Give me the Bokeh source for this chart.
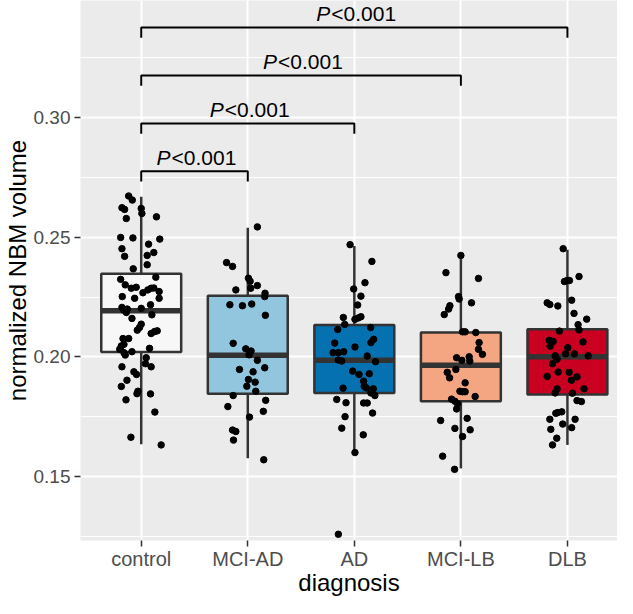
from bokeh.plotting import figure
from bokeh.models import FixedTicker, ColumnDataSource, Range1d
from bokeh.core.properties import value
from bokeh.embed import file_html
from bokeh.resources import INLINE

# ---------------- data ----------------
groups = ["control", "MCI-AD", "AD", "MCI-LB", "DLB"]
fill_colors = ["#F7F7F7", "#92C5DE", "#0571B0", "#F4A582", "#CA0020"]

q1 = [0.2021, 0.1847, 0.1850, 0.1815, 0.1843]
median = [0.2193, 0.2007, 0.1986, 0.1965, 0.2001]
q3 = [0.2347, 0.2256, 0.2133, 0.2102, 0.2116]
whisker_lo = [0.1636, 0.1577, 0.1602, 0.1535, 0.1633]
whisker_hi = [0.2669, 0.2539, 0.2463, 0.2424, 0.2448]

control_vals = [0.2672, 0.2655, 0.2623, 0.2616, 0.2620, 0.2599, 0.2578, 0.2585, 0.2499, 0.2497,
                0.2492, 0.2471, 0.2452, 0.2436, 0.2424, 0.2420, 0.2385, 0.2368, 0.2333, 0.2324,
                0.2301, 0.2287, 0.2291, 0.2273, 0.2268, 0.2280, 0.2287, 0.2288, 0.2252, 0.2245,
                0.2245, 0.2218, 0.2207, 0.2200, 0.2196, 0.2186, 0.2203, 0.2176, 0.2161, 0.2137,
                0.2123, 0.2112, 0.2098, 0.2106, 0.2109, 0.2077, 0.2077, 0.2053, 0.2046, 0.2032,
                0.2036, 0.2018, 0.2008, 0.2022, 0.1997, 0.1972, 0.1959, 0.1959, 0.1938, 0.1927,
                0.1903, 0.1877, 0.1857, 0.1847, 0.1846, 0.1821, 0.1770, 0.1665, 0.1633]
control_jit = [-0.118, -0.084, -0.181, -0.156, 0.0, 0.006, -0.140, 0.143, -0.193, -0.078,
               0.174, 0.069, -0.181, 0.118, 0.056, -0.156, 0.056, -0.075, 0.137, -0.193,
               -0.150, -0.093, -0.047, 0.168, 0.016, 0.062, 0.093, 0.118, -0.178, -0.062,
               0.168, 0.087, -0.181, -0.131, -0.165, -0.140, 0.0, 0.100, -0.087, 0.0,
               -0.016, -0.037, 0.093, 0.125, 0.150, -0.171, -0.118, -0.162, -0.187, -0.202,
               0.078, -0.162, -0.150, -0.087, 0.047, 0.040, 0.093, -0.181, -0.069, -0.044,
               -0.134, -0.187, -0.031, -0.040, 0.087, -0.143, 0.128, -0.097, 0.187]

mciad_vals = [0.2543, 0.2394, 0.2378, 0.2329, 0.2316, 0.2298, 0.2280, 0.2287, 0.2266, 0.2252,
              0.2218, 0.2214, 0.2221, 0.2174, 0.2057, 0.2034, 0.2025, 0.2009, 0.1986, 0.1948,
              0.1955, 0.1938, 0.1906, 0.1895, 0.1878, 0.1857, 0.1839, 0.1819, 0.1793, 0.1773,
              0.1749, 0.1695, 0.1689, 0.1653, 0.1571]
mciad_jit = [0.090, -0.199, -0.143, 0.006, 0.022, 0.090, -0.112, 0.028, 0.162, 0.159,
             -0.168, -0.050, 0.037, 0.165, -0.137, -0.019, 0.031, 0.012, 0.090, -0.078,
             0.159, 0.050, 0.006, 0.069, -0.009, 0.075, -0.137, 0.168, -0.187, 0.146,
             0.016, -0.143, -0.112, -0.134, 0.150]

ad_vals = [0.2469, 0.2399, 0.2310, 0.2284, 0.2254, 0.2217, 0.2165, 0.2157, 0.2163, 0.2168,
           0.2136, 0.2115, 0.2123, 0.2074, 0.2060, 0.2058, 0.2042, 0.2018, 0.2018, 0.2022,
           0.2004, 0.1987, 0.1983, 0.1980, 0.1941, 0.1927, 0.1930, 0.1899, 0.1878, 0.1871,
           0.1870, 0.1867, 0.1850, 0.1839, 0.1823, 0.1809, 0.1808, 0.1808, 0.1766, 0.1751,
           0.1703, 0.1675, 0.1601, 0.1260]
ad_jit = [-0.040, 0.165, 0.100, -0.006, 0.062, 0.031, -0.103, 0.006, 0.037, 0.062,
          -0.090, -0.156, 0.153, 0.181, 0.156, -0.184, 0.006, -0.199, -0.150, -0.100,
          0.121, -0.150, -0.118, 0.199, -0.016, 0.044, 0.140, 0.087, 0.093, 0.112,
          -0.106, 0.178, 0.156, 0.193, -0.165, -0.078, 0.087, 0.121, 0.171, -0.087,
          -0.118, 0.084, 0.006, -0.150]

mcilb_vals = [0.2424, 0.2352, 0.2328, 0.2252, 0.2242, 0.2226, 0.2214, 0.2200, 0.2177, 0.2105,
              0.2105, 0.2102, 0.2060, 0.2032, 0.2011, 0.1997, 0.1986, 0.2001, 0.1983, 0.1948,
              0.1936, 0.1913, 0.1892, 0.1857, 0.1855, 0.1855, 0.1835, 0.1824, 0.1815, 0.1805,
              0.1783, 0.1735, 0.1744, 0.1702, 0.1696, 0.1668, 0.1586, 0.1531]
mcilb_jit = [0.0, -0.140, 0.165, -0.022, -0.016, 0.100, -0.103, -0.115, -0.156, 0.016,
             0.040, 0.140, 0.171, 0.165, 0.202, -0.040, 0.009, 0.078, 0.084, -0.047,
             -0.128, -0.106, 0.040, -0.009, 0.016, 0.040, 0.134, -0.087, -0.056, -0.031,
             -0.040, -0.190, 0.059, -0.056, 0.087, 0.016, -0.171, -0.059]

dlb_vals = [0.2452, 0.2336, 0.2315, 0.2319, 0.2319, 0.2237, 0.2226, 0.2219, 0.2213, 0.2182,
            0.2158, 0.2135, 0.2113, 0.2108, 0.2070, 0.2065, 0.2063, 0.2045, 0.2039, 0.2014,
            0.2013, 0.2005, 0.1991, 0.2005, 0.1972, 0.1919, 0.1937, 0.1936, 0.1917, 0.1903,
            0.1867, 0.1867, 0.1850, 0.1849, 0.1818, 0.1814, 0.1765, 0.1768, 0.1771, 0.1740,
            0.1740, 0.1720, 0.1698, 0.1705, 0.1661, 0.1633]
dlb_jit = [-0.040, 0.109, -0.028, -0.003, 0.019, 0.040, -0.190, -0.165, -0.090, 0.062,
           0.181, 0.100, 0.109, -0.075, -0.171, -0.134, 0.146, -0.162, 0.003, -0.016,
           0.065, -0.115, -0.097, 0.196, -0.140, -0.190, -0.087, 0.016, 0.090, 0.037,
           -0.097, 0.156, -0.115, 0.047, 0.090, 0.131, -0.109, -0.090, -0.053, -0.165,
           0.072, -0.044, -0.156, 0.040, -0.100, -0.140]

point_vals = [control_vals, mciad_vals, ad_vals, mcilb_vals, dlb_vals]
point_jit = [control_jit, mciad_jit, ad_jit, mcilb_jit, dlb_jit]

cmp_from = ["control", "control", "control", "control"]
cmp_to = ["MCI-AD", "AD", "MCI-LB", "DLB"]
cmp_y = [0.2775, 0.2975, 0.3175, 0.3375]
cmp_p = ["P", "P", "P", "P"]
cmp_rest = ["<0.001", "<0.001", "<0.001", "<0.001"]

y_ticks = [0.15, 0.20, 0.25, 0.30]
y_minor = [0.125, 0.175, 0.225, 0.275, 0.325]

x_title = "diagnosis"
y_title = "normalized NBM volume"

# ---------------- figure ----------------
FONT = "Liberation Sans"
BOX_W = 0.75
TIP = 0.0043
TEXT_LIFT = 0.0059
X_LO, X_HI = 0.43, 5.47
Y_LO, Y_HI = 0.1234, 0.3488

p = figure(width=617, height=598, output_backend="svg", toolbar_location=None,
           x_range=Range1d(X_LO, X_HI), y_range=Range1d(Y_LO, Y_HI),
           min_border_left=78, min_border_right=0, min_border_top=0, min_border_bottom=56)
p.background_fill_color = "#EBEBEB"
p.border_fill_color = "white"
p.outline_line_color = None

xpos = list(range(1, len(groups) + 1))

# grid
p.xgrid.ticker = FixedTicker(ticks=xpos)
p.xgrid.grid_line_color = "white"
p.xgrid.grid_line_width = 2
p.ygrid.ticker = FixedTicker(ticks=y_ticks, minor_ticks=y_minor)
p.ygrid.grid_line_color = "white"
p.ygrid.grid_line_width = 2
p.ygrid.minor_grid_line_color = "white"
p.ygrid.minor_grid_line_width = 1

# axes
p.xaxis.ticker = FixedTicker(ticks=xpos)
p.xaxis.major_label_overrides = {i: g for i, g in zip(xpos, groups)}
p.yaxis.ticker = FixedTicker(ticks=y_ticks)
p.yaxis.major_label_overrides = {t: f"{t:.2f}" for t in y_ticks}
for ax in (p.xaxis[0], p.yaxis[0]):
    ax.axis_line_color = None
    ax.major_tick_line_color = "#333333"
    ax.major_tick_line_width = 1.5
    ax.major_tick_out = 6
    ax.major_tick_in = 0
    ax.minor_tick_line_color = None
    ax.major_label_text_font = FONT
    ax.major_label_text_color = "#4D4D4D"
    ax.axis_label_text_font = FONT
    ax.axis_label_text_font_size = "24px"
    ax.axis_label_text_font_style = "normal"
    ax.axis_label_text_color = "black"
p.xaxis.major_label_text_font_size = "20px"
p.yaxis.major_label_text_font_size = "19px"
p.xaxis.major_label_standoff = 1
p.xaxis.axis_label_standoff = -4
p.yaxis.major_label_standoff = 4
p.yaxis.axis_label_standoff = 0
p.xaxis.axis_label = x_title
p.yaxis.axis_label = y_title

# whiskers
wsrc = ColumnDataSource(dict(x=xpos, lo=whisker_lo, q1=q1, q3=q3, hi=whisker_hi))
p.segment(x0="x", y0="q3", x1="x", y1="hi", source=wsrc, line_color="#333333", line_width=2.5)
p.segment(x0="x", y0="lo", x1="x", y1="q1", source=wsrc, line_color="#333333", line_width=2.5)

# boxes
bsrc = ColumnDataSource(dict(x=xpos, q1=q1, q3=q3, med=median, color=fill_colors,
                             left=[x - BOX_W / 2 for x in xpos], right=[x + BOX_W / 2 for x in xpos]))
p.vbar(x="x", width=BOX_W, bottom="q1", top="q3", source=bsrc, fill_color="color",
       line_color="#333333", line_width=2.5)
p.segment(x0="left", y0="med", x1="right", y1="med", source=bsrc, line_color="#333333",
          line_width=5.5)

# jittered points
px, py = [], []
for i, (vals, jit) in enumerate(zip(point_vals, point_jit)):
    for v, j in zip(vals, jit):
        px.append(xpos[i] + j)
        py.append(v)
p.scatter(x=px, y=py, size=6.5, color="black", line_color="black")

# significance brackets
gidx = {g: i + 1 for i, g in enumerate(groups)}
xs, ys, tx, ty = [], [], [], []
for a, b, y in zip(cmp_from, cmp_to, cmp_y):
    xa, xb = gidx[a], gidx[b]
    xs.append([xa, xa, xb, xb])
    ys.append([y - TIP, y, y, y - TIP])
    tx.append((xa + xb) / 2)
    ty.append(y + TEXT_LIFT)
p.multi_line(xs=xs, ys=ys, line_color="black", line_width=2)
tsrc = ColumnDataSource(dict(x=tx, y=ty, p=cmp_p, rest=cmp_rest))
p.text(x="x", y="y", text="p", source=tsrc, text_font=value(FONT), text_font_size="21px",
       text_font_style="italic", text_align="right", text_baseline="middle",
       x_offset=-24, text_color="black")
p.text(x="x", y="y", text="rest", source=tsrc, text_font=value(FONT), text_font_size="21px",
       text_align="left", text_baseline="middle", x_offset=-23, text_color="black")

open("out.html", "w").write(file_html(p, INLINE))
